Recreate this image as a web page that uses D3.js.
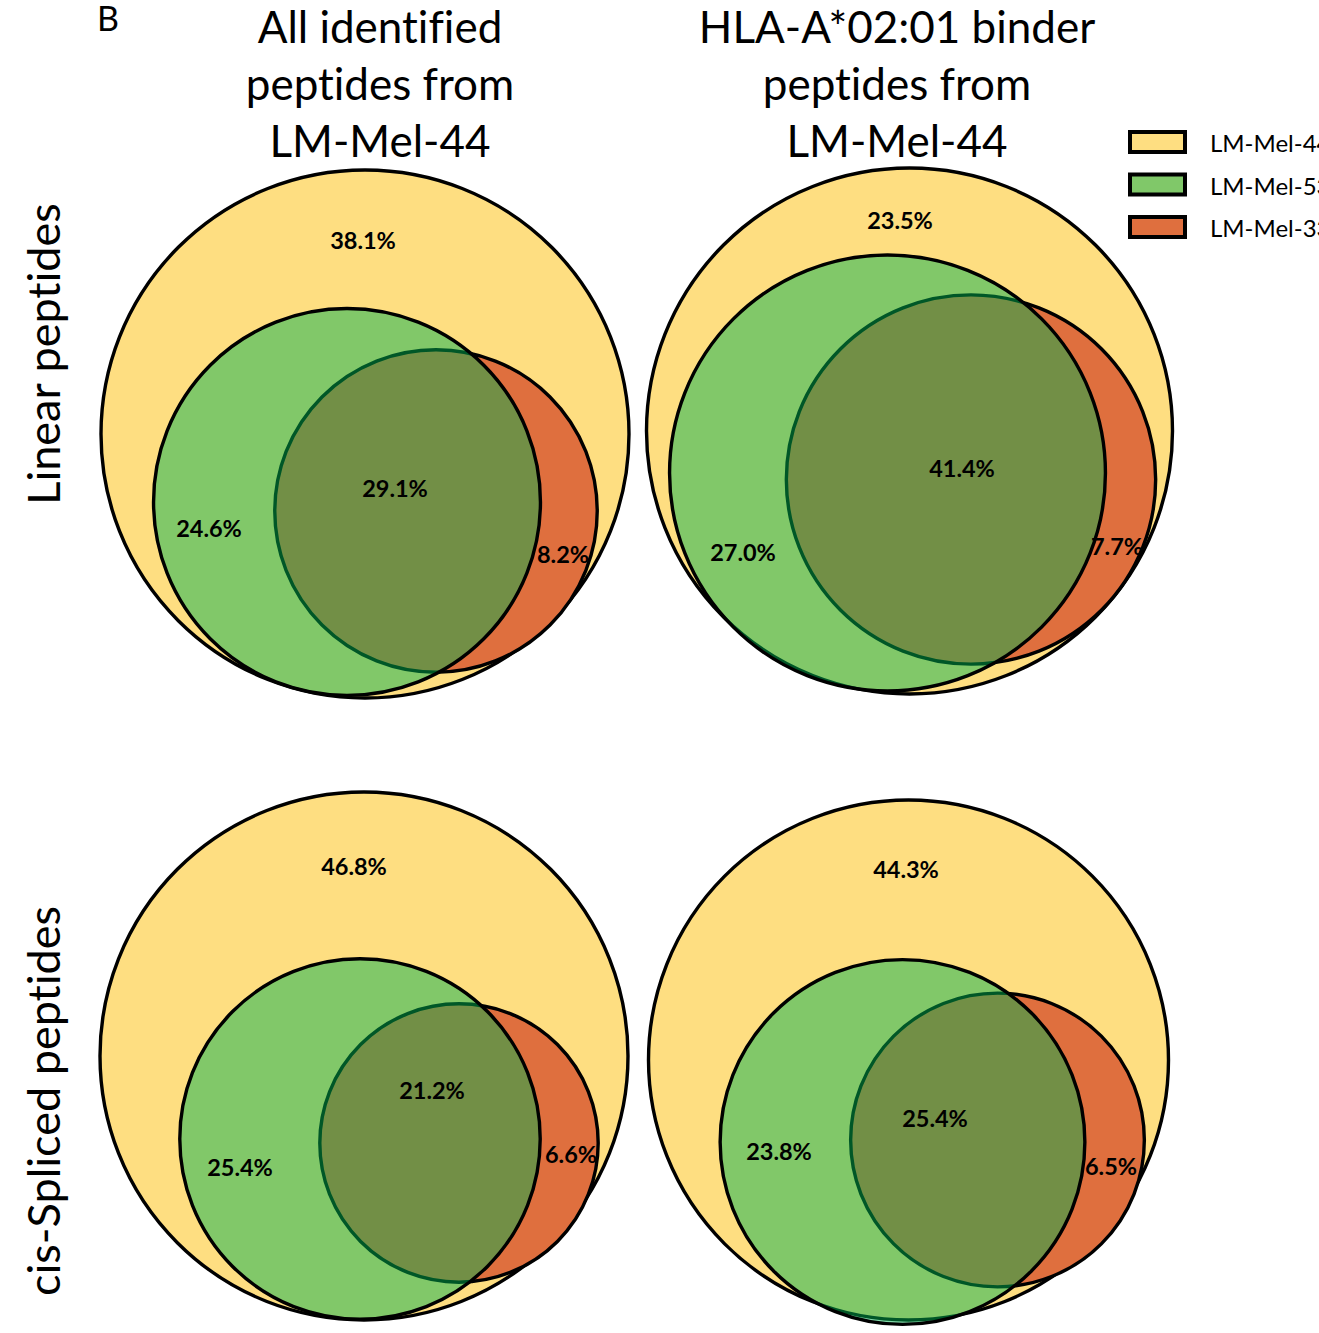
<!DOCTYPE html>
<html>
<head>
<meta charset="utf-8">
<script src="https://cdn.jsdelivr.net/npm/d3@7"></script>
<style>
  html, body { margin: 0; padding: 0; background: #fff; overflow: hidden; }
  svg { display: block; }
  text { font-variant-ligatures: none; font-feature-settings: "liga" 0, "clig" 0; }
</style>
</head>
<body>
<svg id="chart"></svg>
<script>
// ---- data -------------------------------------------------------------
const setNames = ["LM-Mel-44", "LM-Mel-53", "LM-Mel-33"];
const columnTitles = [
  ["All identified", "peptides from", "LM-Mel-44"],
  ["HLA-A*02:01 binder", "peptides from", "LM-Mel-44"]
];
const rowTitles = ["Linear peptides", "cis-Spliced peptides"];
const panelLetter = "B";

// share of LM-Mel-44 peptides (%) per region, panels in reading order
const only44      = [38.1, 23.5, 46.8, 44.3];   // LM-Mel-44 only
const shared53    = [24.6, 27.0, 25.4, 23.8];   // also in LM-Mel-53, not in LM-Mel-33
const sharedAll   = [29.1, 41.4, 21.2, 25.4];   // in all three
const shared33    = [8.2, 7.7, 6.6, 6.5];       // also in LM-Mel-33, not in LM-Mel-53

// ---- layout -----------------------------------------------------------
const W = 1319, H = 1333;
const panels = [
  { c: [365, 434],  R: 264, g: [347, 502],  o: [436, 511],
    lab: { y: [363, 249], g: [209, 537], a: [395, 497], o: [563, 563] } },
  { c: [909.5, 431], R: 263, g: [887.5, 473], o: [971, 479.5],
    lab: { y: [900, 229], g: [743, 561], a: [962, 477], o: [1117, 555] } },
  { c: [364, 1056], R: 264, g: [360, 1139], o: [459, 1143],
    lab: { y: [354, 875], g: [240, 1176], a: [432, 1099], o: [571, 1163] } },
  { c: [908.5, 1060], R: 260, g: [902.5, 1142], o: [997.5, 1140],
    lab: { y: [906, 878], g: [779, 1160], a: [935, 1127], o: [1111, 1175] } }
];

const yellow = "#FEDE81", orange = "#DF6F3E";
const greenBase = "rgb(0,178,80)", greenAlpha = 0.49, greenSwatch = "#80C869";
const font = "Lato, 'Open Sans', sans-serif";

const svg = d3.select("#chart").attr("width", W).attr("height", H)
  .style("font-family", font);

// ---- Venn panels --------------------------------------------------------
panels.forEach((p, i) => {
  const total = only44[i] + shared53[i] + sharedAll[i] + shared33[i];
  const r = d3.scaleSqrt().domain([0, total]).range([0, p.R]);
  const circles = [
    { key: "44", cx: p.c[0], cy: p.c[1], r: r(total), fill: yellow, op: 1 },
    { key: "33", cx: p.o[0], cy: p.o[1], r: r(sharedAll[i] + shared33[i]), fill: orange, op: 1 },
    { key: "53", cx: p.g[0], cy: p.g[1], r: r(shared53[i] + sharedAll[i]), fill: greenBase, op: greenAlpha }
  ];
  const g = svg.append("g").attr("class", "venn");
  g.selectAll("circle").data(circles).join("circle")
    .attr("cx", d => d.cx).attr("cy", d => d.cy).attr("r", d => d.r)
    .attr("fill", d => d.fill).attr("fill-opacity", d => d.op)
    .attr("stroke", "#000").attr("stroke-width", 3.4);

  const labels = [
    { v: only44[i], pos: p.lab.y },
    { v: shared53[i], pos: p.lab.g },
    { v: sharedAll[i], pos: p.lab.a },
    { v: shared33[i], pos: p.lab.o }
  ];
  g.selectAll("text").data(labels).join("text")
    .attr("x", d => d.pos[0]).attr("y", d => d.pos[1])
    .attr("text-anchor", "middle")
    .style("font-size", "23.5px").style("font-weight", 700).attr("fill", "#000")
    .text(d => d3.format(".1f")(d.v) + "%");
});

// ---- column titles ----------------------------------------------------
const titleX = [380, 897];
columnTitles.forEach((lines, j) => {
  svg.append("text").attr("text-anchor", "middle")
    .style("font-size", "44px").attr("fill", "#000")
    .selectAll("tspan").data(lines).join("tspan")
    .attr("x", titleX[j]).attr("y", (d, k) => 43 + k * 57)
    .text(d => d);
});

// ---- row titles ---------------------------------------------------------
const rowY = [354, 1101];
rowTitles.forEach((t, k) => {
  svg.append("text")
    .attr("transform", `translate(60,${rowY[k]}) rotate(-90)`)
    .attr("text-anchor", "middle")
    .style("font-size", "45px").attr("fill", "#000")
    .text(t);
});

// ---- panel letter -------------------------------------------------------
svg.append("text").attr("x", 97).attr("y", 31)
  .style("font-size", "34px").attr("fill", "#000").text(panelLetter);

// ---- legend -------------------------------------------------------------
const legendColors = [yellow, greenSwatch, orange];
const lg = svg.append("g").attr("transform", "translate(1130,132)");
const item = lg.selectAll("g").data(setNames).join("g")
  .attr("transform", (d, k) => `translate(0,${k * 42.5})`);
item.append("rect").attr("x", 0).attr("y", 0).attr("width", 55).attr("height", 20)
  .attr("fill", (d, k) => legendColors[k]).attr("stroke", "#000").attr("stroke-width", 4);
item.append("text").attr("x", 80).attr("y", 20)
  .style("font-size", "24px").attr("fill", "#000").text(d => d);
</script>
</body>
</html>
